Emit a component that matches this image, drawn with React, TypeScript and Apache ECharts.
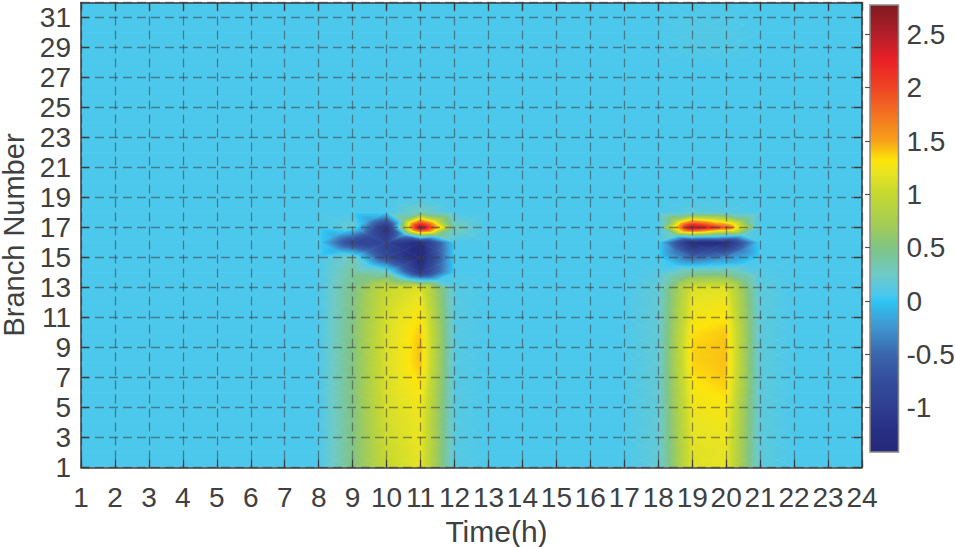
import React, { useEffect, useRef } from "react";
import * as echarts from "echarts";

// ---------- data ----------
const hours = [1, 2, 3, 4, 5, 6, 7, 8, 9, 10, 11, 12, 13, 14, 15, 16, 17, 18, 19, 20, 21, 22, 23, 24];
const branches = [1, 2, 3, 4, 5, 6, 7, 8, 9, 10, 11, 12, 13, 14, 15, 16, 17, 18, 19, 20, 21, 22, 23, 24, 25, 26, 27, 28, 29, 30, 31, 32];
const colorbarTicks = [-1, -0.5, 0, 0.5, 1, 1.5, 2, 2.5];

// values per hour, listed from branch 1 to branch 32
const quietHour = [
  0.06, 0.06, 0.06, 0.06, 0.06, 0.06, 0.06, 0.06, 0.06, 0.06, 0.06, 0.06, 0.06, 0.06, 0.06, 0.06,
  0.06, 0.06, 0.06, 0.06, 0.06, 0.06, 0.06, 0.06, 0.06, 0.06, 0.06, 0.06, 0.06, 0.06, 0.06, 0.06,
];
const hour09 = [
  0.5, 0.5, 0.5, 0.5, 0.5, 0.52, 0.52, 0.52, 0.52, 0.52, 0.5, 0.5, 0.48, 0.4, 0.3, -0.9,
  0.2, 0.06, 0.06, 0.06, 0.06, 0.06, 0.06, 0.06, 0.06, 0.06, 0.06, 0.06, 0.06, 0.06, 0.06, 0.06,
];
const hour10 = [
  1.0, 1.02, 1.05, 1.08, 1.1, 1.12, 1.12, 1.12, 1.12, 1.12, 1.1, 1.05, 1.0, 0.3, -0.8, -0.95,
  -1.2, 0.06, 0.06, 0.06, 0.06, 0.06, 0.06, 0.06, 0.06, 0.06, 0.06, 0.06, 0.06, 0.06, 0.06, 0.06,
];
const hour11 = [
  1.2, 1.2, 1.22, 1.22, 1.25, 1.3, 1.36, 1.42, 1.42, 1.4, 1.33, 1.25, 1.15, -1.1, -1.4, -1.3,
  2.75, 0.3, 0.06, 0.06, 0.06, 0.06, 0.06, 0.06, 0.06, 0.06, 0.06, 0.06, 0.06, 0.06, 0.06, 0.06,
];
const hour12 = [
  0.12, 0.12, 0.12, 0.12, 0.12, 0.12, 0.12, 0.12, 0.12, 0.12, 0.12, 0.12, 0.12, 0.06, 0.06, 0.06,
  0.35, 0.06, 0.06, 0.06, 0.06, 0.06, 0.06, 0.06, 0.06, 0.06, 0.06, 0.06, 0.06, 0.06, 0.06, 0.06,
];
const hour18 = [
  0.18, 0.18, 0.18, 0.18, 0.18, 0.18, 0.18, 0.18, 0.18, 0.18, 0.18, 0.18, 0.18, 0.1, 0.06, 0.06,
  0.06, 0.06, 0.06, 0.06, 0.06, 0.06, 0.06, 0.06, 0.06, 0.06, 0.06, 0.06, 0.06, 0.06, 0.06, 0.06,
];
const hour19 = [
  1.15, 1.15, 1.18, 1.2, 1.24, 1.28, 1.33, 1.37, 1.37, 1.33, 1.25, 1.2, 1.12, 0.4, -0.5, -1.35,
  2.65, 0.15, 0.06, 0.06, 0.06, 0.06, 0.06, 0.06, 0.06, 0.06, 0.06, 0.06, 0.1, 0.1, 0.08, 0.06,
];
const hour20 = [
  1.2, 1.2, 1.22, 1.25, 1.28, 1.35, 1.4, 1.42, 1.42, 1.4, 1.32, 1.25, 1.15, 0.4, -0.3, -1.3,
  1.9, 0.12, 0.06, 0.06, 0.06, 0.06, 0.06, 0.06, 0.06, 0.06, 0.06, 0.06, 0.1, 0.1, 0.08, 0.06,
];
const hour21 = [
  0.15, 0.15, 0.15, 0.15, 0.15, 0.15, 0.15, 0.15, 0.15, 0.15, 0.15, 0.15, 0.15, 0.1, 0.06, 0.06,
  0.06, 0.06, 0.06, 0.06, 0.06, 0.06, 0.06, 0.06, 0.06, 0.06, 0.06, 0.06, 0.06, 0.06, 0.06, 0.06,
];

// hour 1 .. hour 24
const flowByHour = [
  quietHour, quietHour, quietHour, quietHour, quietHour, quietHour, quietHour, quietHour,
  hour09, hour10, hour11, hour12, quietHour, quietHour, quietHour, quietHour,
  quietHour, hour18, hour19, hour20, hour21, quietHour, quietHour, quietHour,
];

const colorMin = -1.415;
const colorMax = 2.775;

// ---------- colour map (style) ----------
const cmapValues = [-1.415, -1.23, -1.0, -0.76, -0.5, -0.22, 0.0, 0.06, 0.24, 0.5, 0.71, 1.01, 1.2, 1.32, 1.5, 1.76, 2.0, 2.26, 2.51, 2.775];
const cmapColors = [
  "#262978", "#262e83", "#2e3e91", "#334c9c", "#3a66ad", "#3f9ad3", "#2ec5f4", "#4cc8ec", "#6ccac8", "#80c484",
  "#a2cc56", "#c6d92f", "#e8e421", "#fde50a", "#f8a11a", "#f37021", "#ef4423", "#ea1f26", "#b01f2a", "#7f1a1f",
];

const FONT = "'Liberation Sans', Arial, Helvetica, sans-serif";
const TEXT = "#404040";

function hexRgb(h: string): number[] {
  return [parseInt(h.slice(1, 3), 16), parseInt(h.slice(3, 5), 16), parseInt(h.slice(5, 7), 16)];
}
const cmapRgb = cmapColors.map(hexRgb);

function valueColor(v: number): string {
  if (v <= cmapValues[0]) return cmapColors[0];
  const n = cmapValues.length;
  if (v >= cmapValues[n - 1]) return cmapColors[n - 1];
  for (let k = 0; k < n - 1; k++) {
    const a = cmapValues[k];
    const b = cmapValues[k + 1];
    if (v >= a && v <= b) {
      const t = (v - a) / (b - a);
      const c0 = cmapRgb[k];
      const c1 = cmapRgb[k + 1];
      const r = Math.round(c0[0] + (c1[0] - c0[0]) * t);
      const g = Math.round(c0[1] + (c1[1] - c0[1]) * t);
      const bl = Math.round(c0[2] + (c1[2] - c0[2]) * t);
      return `rgb(${r},${g},${bl})`;
    }
  }
  return cmapColors[n - 1];
}

function triangleStyle(pts: number[][], vals: number[]) {
  const vmin = Math.min(vals[0], vals[1], vals[2]);
  const vmax = Math.max(vals[0], vals[1], vals[2]);
  if (vmax - vmin < 1e-9) {
    const c = valueColor(vmin);
    return { fill: c, stroke: c, lineWidth: 0.7 };
  }
  const [p0, p1, p2] = pts;
  const d1x = p1[0] - p0[0], d1y = p1[1] - p0[1];
  const d2x = p2[0] - p0[0], d2y = p2[1] - p0[1];
  const dv1 = vals[1] - vals[0], dv2 = vals[2] - vals[0];
  const det = d1x * d2y - d1y * d2x;
  const gx = (dv1 * d2y - dv2 * d1y) / det;
  const gy = (d1x * dv2 - d2x * dv1) / det;
  const g2 = gx * gx + gy * gy;
  const span = vmax - vmin;
  const s = pts[vals.indexOf(vmin)];
  const ex = s[0] + (gx * span) / g2;
  const ey = s[1] + (gy * span) / g2;
  const stops: { offset: number; color: string }[] = [{ offset: 0, color: valueColor(vmin) }];
  cmapValues.forEach((b) => {
    if (b > vmin && b < vmax) stops.push({ offset: (b - vmin) / span, color: valueColor(b) });
  });
  stops.push({ offset: 1, color: valueColor(vmax) });
  const grad = { type: "linear", x: s[0], y: s[1], x2: ex, y2: ey, colorStops: stops, global: true };
  return { fill: grad, stroke: grad, lineWidth: 0.7 };
}

const quads: number[][] = [];
for (let i = 0; i < hours.length - 1; i++) {
  for (let j = 0; j < branches.length - 1; j++) {
    quads.push([hours[i], branches[j], i, j]);
  }
}

function heatRender(_params: any, api: any) {
  const i = api.value(2) as number;
  const j = api.value(3) as number;
  const h0 = hours[i], h1 = hours[i + 1];
  const b0 = branches[j], b1 = branches[j + 1];
  const v00 = flowByHour[i][j];
  const v10 = flowByHour[i + 1][j];
  const v11 = flowByHour[i + 1][j + 1];
  const v01 = flowByHour[i][j + 1];
  const p00 = api.coord([h0, b0]);
  const p10 = api.coord([h1, b0]);
  const p11 = api.coord([h1, b1]);
  const p01 = api.coord([h0, b1]);
  if (v00 === v10 && v00 === v11 && v00 === v01) {
    const c = valueColor(v00);
    return {
      type: "rect",
      shape: { x: p00[0], y: p01[1], width: p10[0] - p00[0], height: p00[1] - p01[1] },
      style: { fill: c, stroke: c, lineWidth: 0.7 },
      silent: true,
    };
  }
  const vc = (v00 + v10 + v11 + v01) / 4;
  const pc = [(p00[0] + p10[0] + p11[0] + p01[0]) / 4, (p00[1] + p10[1] + p11[1] + p01[1]) / 4];
  const tris: [number[][], number[]][] = [
    [[p00, p10, pc], [v00, v10, vc]],
    [[p10, p11, pc], [v10, v11, vc]],
    [[p11, p01, pc], [v11, v01, vc]],
    [[p01, p00, pc], [v01, v00, vc]],
  ];
  return {
    type: "group",
    children: tris.map(([pts, vals]) => ({
      type: "polygon",
      shape: { points: pts },
      style: triangleStyle(pts, vals),
      silent: true,
    })),
  };
}

function barRender(_params: any, api: any) {
  const top = api.coord([0, colorMax]);
  const bottom = api.coord([1, colorMin]);
  const stops = cmapValues.map((v, k) => ({
    offset: (v - colorMin) / (colorMax - colorMin),
    color: cmapColors[k],
  }));
  return {
    type: "rect",
    shape: { x: top[0], y: top[1], width: bottom[0] - top[0], height: bottom[1] - top[1] },
    style: {
      fill: { type: "linear", x: 0, y: 1, x2: 0, y2: 0, colorStops: stops, global: false },
      stroke: "#8a8a8a",
      lineWidth: 1.5,
    },
    silent: true,
  };
}

const axisLineStyle = { color: "#3c3c3c", width: 1.5 };
const tickStyle = { color: "#3c3c3c", width: 1.3 };
const gridLineStyle = { color: "rgba(60,60,60,0.55)", width: 1.3, type: [9, 5] as number[] };
const labelStyle = { fontSize: 28, color: TEXT, fontFamily: FONT };

const option: any = {
  animation: false,
  backgroundColor: "#ffffff",
  textStyle: { fontFamily: FONT },
  grid: [
    { left: 81, top: 2.5, width: 781, height: 465, show: false, outerBoundsMode: "none" },
    { left: 870, top: 5, width: 28.5, height: 447, show: false, outerBoundsMode: "none" },
  ],
  xAxis: [
    {
      gridIndex: 0,
      type: "value",
      min: 1,
      max: 24,
      interval: 1,
      position: "bottom",
      z: 5,
      name: "Time(h)",
      nameLocation: "middle",
      nameGap: 41,
      nameTextStyle: { fontSize: 30, color: TEXT, fontFamily: FONT, padding: [0, 0, 0, 50] },
      axisLine: { show: true, onZero: false, lineStyle: axisLineStyle },
      axisTick: { show: true, inside: true, length: 8, lineStyle: tickStyle },
      axisLabel: { ...labelStyle, margin: 16 },
      splitLine: { show: true, lineStyle: gridLineStyle },
    },
    {
      gridIndex: 0,
      type: "value",
      min: 1,
      max: 24,
      interval: 1,
      position: "top",
      z: 5,
      axisLine: { show: true, onZero: false, lineStyle: axisLineStyle },
      axisTick: { show: true, inside: true, length: 8, lineStyle: tickStyle },
      axisLabel: { show: false },
      splitLine: { show: false },
    },
    { gridIndex: 1, type: "value", min: 0, max: 1, show: false },
  ],
  yAxis: [
    {
      gridIndex: 0,
      type: "value",
      min: 1,
      max: 32,
      interval: 2,
      position: "left",
      z: 5,
      name: "Branch Number",
      nameLocation: "middle",
      nameGap: 42,
      nameTextStyle: { fontSize: 29, color: TEXT, fontFamily: FONT },
      axisLine: { show: true, onZero: false, lineStyle: axisLineStyle },
      axisTick: { show: true, inside: true, length: 8, lineStyle: tickStyle },
      axisLabel: { ...labelStyle, margin: 10, showMaxLabel: false },
      splitLine: { show: true, lineStyle: gridLineStyle },
    },
    {
      gridIndex: 0,
      type: "value",
      min: 1,
      max: 32,
      interval: 2,
      position: "right",
      z: 5,
      axisLine: { show: true, onZero: false, lineStyle: axisLineStyle },
      axisTick: { show: true, inside: true, length: 8, lineStyle: tickStyle },
      axisLabel: { show: false },
      splitLine: { show: false },
    },
    {
      gridIndex: 1,
      type: "value",
      min: colorMin,
      max: colorMax,
      position: "right",
      z: 5,
      axisLine: { show: false },
      axisTick: { show: true, inside: true, length: 5, customValues: colorbarTicks, lineStyle: { color: "#555555", width: 1.2 } },
      axisLabel: { ...labelStyle, margin: 8, customValues: colorbarTicks },
      splitLine: { show: false },
    },
  ],
  series: [
    {
      type: "custom",
      xAxisIndex: 0,
      yAxisIndex: 0,
      data: quads,
      encode: { x: 0, y: 1 },
      renderItem: heatRender,
      clip: true,
      silent: true,
      z: 2,
    },
    {
      type: "custom",
      xAxisIndex: 2,
      yAxisIndex: 2,
      data: [[0, colorMin]],
      encode: { x: 0, y: 1 },
      renderItem: barRender,
      silent: true,
      z: 2,
    },
  ],
};

export default function App() {
  const ref = useRef<HTMLDivElement>(null);
  useEffect(() => {
    if (!ref.current) return;
    const chart = echarts.init(ref.current, null, { renderer: "svg" });
    chart.setOption(option);
    return () => chart.dispose();
  }, []);
  return (
    <div
      ref={ref}
      style={{ position: "absolute", left: 0, top: 0, width: 955, height: 547, background: "#ffffff" }}
    />
  );
}
